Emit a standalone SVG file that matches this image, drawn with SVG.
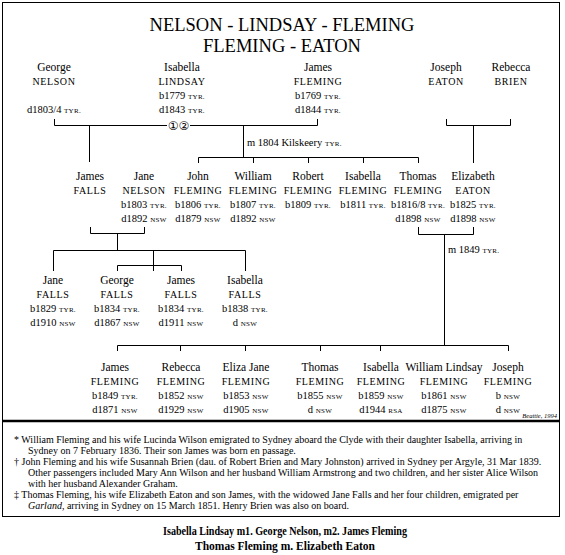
<svg xmlns="http://www.w3.org/2000/svg" width="565" height="555" viewBox="0 0 565 555">
<style>
text { font-family: "Liberation Serif", "Times New Roman", serif; fill: #000; }
.title { font-size: 18.5px; text-anchor: middle; }
.gn { font-size: 11.5px; text-anchor: middle; }
.sn { font-size: 10px; letter-spacing: 0.6px; text-anchor: middle; }
.dt { font-size: 10.5px; text-anchor: middle; }
.st { font-size: 7px; letter-spacing: 0.3px; }
.lbl { font-size: 10.5px; }
.fn { font-size: 10px; }
.cap { font-size: 12.5px; font-weight: bold; text-anchor: middle; }
.circ { font-family: "DejaVu Sans", "Noto Sans CJK JP", sans-serif; font-size: 12px; text-anchor: middle; }
.conn path { fill: none; stroke: #000; stroke-width: 1; }
</style>
<rect x="2.5" y="2.5" width="557" height="514" fill="#fff" stroke="#000" stroke-width="1"/>
<path d="M3,421 H560" stroke="#000" stroke-width="2.5"/>

<g id="title">
<text class="title" x="282" y="31">NELSON - LINDSAY - FLEMING</text>
<text class="title" x="282" y="52">FLEMING - EATON</text>
</g>

<g id="connectors" class="conn">
<path d="M54.5,119 V125.5 H167"/>
<path d="M190,125.5 H317.5 V119"/>
<path d="M89.5,125.5 V162"/>
<path d="M243.5,125.5 V157.5"/>
<path d="M198.5,163 V157.5 H418.5 V163 M253.5,157.5 V163 M308.5,157.5 V163 M363.5,157.5 V163"/>
<path d="M446.5,119 V125.5 H510.5 V119 M473.5,125.5 V163"/>
<path d="M418.5,227 V234.5 H473.5 V227 M444.5,234.5 V345.5"/>
<path d="M90.5,227 V233.5 H144.5 V227 M117.5,233.5 V250.5"/>
<path d="M53.5,271 V250.5 H245.5 V271 M153.5,250.5 V271 M117.5,271 V265.5 H181.5 V271"/>
<path d="M117.5,351 V345.5 H508.5 V351 M180.5,345.5 V351 M245.5,345.5 V351 M320.5,345.5 V351 M380.5,345.5 V351"/>
<text class="circ" x="178.5" y="129.5">①②</text>
<text class="lbl" x="247" y="146">m 1804 Kilskeery <tspan class="st">TYR.</tspan></text>
<text class="lbl" x="448" y="253">m 1849 <tspan class="st">TYR.</tspan></text>
</g>

<!-- Generation 1 -->
<g id="george-nelson">
<text class="gn" x="54" y="71">George</text>
<text class="sn" x="54" y="85">NELSON</text>
<text class="dt" x="54" y="113">d1803/4 <tspan class="st">TYR.</tspan></text>
</g>
<g id="isabella-lindsay">
<text class="gn" x="182" y="71">Isabella</text>
<text class="sn" x="182" y="85">LINDSAY</text>
<text class="dt" x="182" y="99">b1779 <tspan class="st">TYR.</tspan></text>
<text class="dt" x="182" y="113">d1843 <tspan class="st">TYR.</tspan></text>
</g>
<g id="james-fleming-sr">
<text class="gn" x="318" y="71">James</text>
<text class="sn" x="318" y="85">FLEMING</text>
<text class="dt" x="318" y="99">b1769 <tspan class="st">TYR.</tspan></text>
<text class="dt" x="318" y="113">d1844 <tspan class="st">TYR.</tspan></text>
</g>
<g id="joseph-eaton">
<text class="gn" x="446" y="71">Joseph</text>
<text class="sn" x="446" y="85">EATON</text>
</g>
<g id="rebecca-brien">
<text class="gn" x="511" y="71">Rebecca</text>
<text class="sn" x="511" y="85">BRIEN</text>
</g>

<!-- Generation 2 -->
<g id="james-falls">
<text class="gn" x="90" y="180">James</text>
<text class="sn" x="90" y="194">FALLS</text>
</g>
<g id="jane-nelson">
<text class="gn" x="144" y="180">Jane</text>
<text class="sn" x="144" y="194">NELSON</text>
<text class="dt" x="144" y="208">b1803 <tspan class="st">TYR.</tspan></text>
<text class="dt" x="144" y="222">d1892 <tspan class="st">NSW</tspan></text>
</g>
<g id="john-fleming">
<text class="gn" x="198" y="180">John</text>
<text class="sn" x="198" y="194">FLEMING</text>
<text class="dt" x="198" y="208">b1806 <tspan class="st">TYR.</tspan></text>
<text class="dt" x="198" y="222">d1879 <tspan class="st">NSW</tspan></text>
</g>
<g id="william-fleming">
<text class="gn" x="253" y="180">William</text>
<text class="sn" x="253" y="194">FLEMING</text>
<text class="dt" x="253" y="208">b1807 <tspan class="st">TYR.</tspan></text>
<text class="dt" x="253" y="222">d1892 <tspan class="st">NSW</tspan></text>
</g>
<g id="robert-fleming">
<text class="gn" x="308" y="180">Robert</text>
<text class="sn" x="308" y="194">FLEMING</text>
<text class="dt" x="308" y="208">b1809 <tspan class="st">TYR.</tspan></text>
</g>
<g id="isabella-fleming-sr">
<text class="gn" x="363" y="180">Isabella</text>
<text class="sn" x="363" y="194">FLEMING</text>
<text class="dt" x="363" y="208">b1811 <tspan class="st">TYR.</tspan></text>
</g>
<g id="thomas-fleming">
<text class="gn" x="418" y="180">Thomas</text>
<text class="sn" x="418" y="194">FLEMING</text>
<text class="dt" x="418" y="208">b1816/8 <tspan class="st">TYR.</tspan></text>
<text class="dt" x="418" y="222">d1898 <tspan class="st">NSW</tspan></text>
</g>
<g id="elizabeth-eaton">
<text class="gn" x="473" y="180">Elizabeth</text>
<text class="sn" x="473" y="194">EATON</text>
<text class="dt" x="473" y="208">b1825 <tspan class="st">TYR.</tspan></text>
<text class="dt" x="473" y="222">d1898 <tspan class="st">NSW</tspan></text>
</g>

<!-- Generation 3: Falls children -->
<g id="jane-falls">
<text class="gn" x="53" y="284">Jane</text>
<text class="sn" x="53" y="298">FALLS</text>
<text class="dt" x="53" y="312">b1829 <tspan class="st">TYR.</tspan></text>
<text class="dt" x="53" y="326">d1910 <tspan class="st">NSW</tspan></text>
</g>
<g id="george-falls">
<text class="gn" x="117" y="284">George</text>
<text class="sn" x="117" y="298">FALLS</text>
<text class="dt" x="117" y="312">b1834 <tspan class="st">TYR.</tspan></text>
<text class="dt" x="117" y="326">d1867 <tspan class="st">NSW</tspan></text>
</g>
<g id="james-falls-jr">
<text class="gn" x="181" y="284">James</text>
<text class="sn" x="181" y="298">FALLS</text>
<text class="dt" x="181" y="312">b1834 <tspan class="st">TYR.</tspan></text>
<text class="dt" x="181" y="326">d1911 <tspan class="st">NSW</tspan></text>
</g>
<g id="isabella-falls">
<text class="gn" x="245" y="284">Isabella</text>
<text class="sn" x="245" y="298">FALLS</text>
<text class="dt" x="245" y="312">b1838 <tspan class="st">TYR.</tspan></text>
<text class="dt" x="245" y="326">d <tspan class="st">NSW</tspan></text>
</g>

<!-- Generation 3: Fleming children -->
<g id="james-fleming-jr">
<text class="gn" x="115" y="371">James</text>
<text class="sn" x="115" y="385">FLEMING</text>
<text class="dt" x="115" y="399">b1849 <tspan class="st">TYR.</tspan></text>
<text class="dt" x="115" y="413">d1871 <tspan class="st">NSW</tspan></text>
</g>
<g id="rebecca-fleming">
<text class="gn" x="181" y="371">Rebecca</text>
<text class="sn" x="181" y="385">FLEMING</text>
<text class="dt" x="181" y="399">b1852 <tspan class="st">NSW</tspan></text>
<text class="dt" x="181" y="413">d1929 <tspan class="st">NSW</tspan></text>
</g>
<g id="eliza-jane-fleming">
<text class="gn" x="246" y="371">Eliza Jane</text>
<text class="sn" x="246" y="385">FLEMING</text>
<text class="dt" x="246" y="399">b1853 <tspan class="st">NSW</tspan></text>
<text class="dt" x="246" y="413">d1905 <tspan class="st">NSW</tspan></text>
</g>
<g id="thomas-fleming-jr">
<text class="gn" x="320" y="371">Thomas</text>
<text class="sn" x="320" y="385">FLEMING</text>
<text class="dt" x="320" y="399">b1855 <tspan class="st">NSW</tspan></text>
<text class="dt" x="320" y="413">d <tspan class="st">NSW</tspan></text>
</g>
<g id="isabella-fleming-jr">
<text class="gn" x="381" y="371">Isabella</text>
<text class="sn" x="381" y="385">FLEMING</text>
<text class="dt" x="381" y="399">b1859 <tspan class="st">NSW</tspan></text>
<text class="dt" x="381" y="413">d1944 <tspan class="st">RSA</tspan></text>
</g>
<g id="william-lindsay-fleming">
<text class="gn" x="444" y="371">William Lindsay</text>
<text class="sn" x="444" y="385">FLEMING</text>
<text class="dt" x="444" y="399">b1861 <tspan class="st">NSW</tspan></text>
<text class="dt" x="444" y="413">d1875 <tspan class="st">NSW</tspan></text>
</g>
<g id="joseph-fleming">
<text class="gn" x="508" y="371">Joseph</text>
<text class="sn" x="508" y="385">FLEMING</text>
<text class="dt" x="508" y="399">b <tspan class="st">NSW</tspan></text>
<text class="dt" x="508" y="413">d <tspan class="st">NSW</tspan></text>
</g>

<text x="557" y="418" font-size="6.5" font-style="italic" text-anchor="end">Beattie, 1994</text>

<g id="footnotes">
<text class="fn" x="14" y="443">* William Fleming and his wife Lucinda Wilson emigrated to Sydney aboard the Clyde with their daughter Isabella, arriving in</text>
<text class="fn" x="28" y="454">Sydney on 7 February 1836. Their son James was born en passage.</text>
<text class="fn" x="14" y="465">† John Fleming and his wife Susannah Brien (dau. of Robert Brien and Mary Johnston) arrived in Sydney per Argyle, 31 Mar 1839.</text>
<text class="fn" x="28" y="476">Other passengers included Mary Ann Wilson and her husband William Armstrong and two children, and her sister Alice Wilson</text>
<text class="fn" x="28" y="487">with her husband Alexander Graham.</text>
<text class="fn" x="14" y="498">‡ Thomas Fleming, his wife Elizabeth Eaton and son James, with the widowed Jane Falls and her four children, emigrated per</text>
<text class="fn" x="28" y="509"><tspan font-style="italic">Garland</tspan>, arriving in Sydney on 15 March 1851. Henry Brien was also on board.</text>
</g>

<g id="caption">
<text class="cap" x="285" y="535" textLength="244" lengthAdjust="spacingAndGlyphs">Isabella Lindsay m1. George Nelson, m2. James Fleming</text>
<text class="cap" x="285" y="550" textLength="180" lengthAdjust="spacingAndGlyphs">Thomas Fleming m. Elizabeth Eaton</text>
</g>
</svg>
